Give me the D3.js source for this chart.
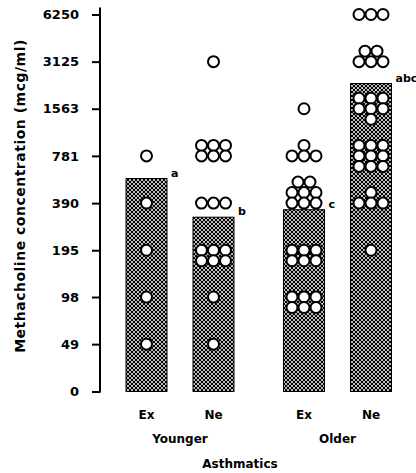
<!DOCTYPE html>
<html>
<head>
<meta charset="utf-8">
<script src="https://cdn.jsdelivr.net/npm/d3@7"></script>
<style>
  body { margin: 0; background: #fff; }
  text { font-family: "DejaVu Sans", sans-serif; font-weight: bold; fill: #000; }
</style>
</head>
<body>
<script>
// dose steps on the y axis (mcg/ml)
const doseLabels = ["0", "49", "98", "195", "390", "781", "1563", "3125", "6250"];
const groups = ["Younger", "Older"];
const subgroups = ["Ex", "Ne"];

// bars: geometric mean PC20 for each group
const barGroup = ["Younger", "Younger", "Older", "Older"];
const barSub = ["Ex", "Ne", "Ex", "Ne"];
const barMean = [560, 317, 354, 2264];
const barMark = ["a", "b", "c", "abc"];

// one value per subject
const youngerEx = [781, 390, 195, 98, 49];
const youngerNe = [3125,
  781, 781, 781, 781, 781, 781,
  390, 390, 390,
  195, 195, 195, 195, 195, 195,
  98, 49];
const olderEx = [1563,
  781, 781, 781, 781,
  390, 390, 390, 390, 390, 390, 390, 390,
  195, 195, 195, 195, 195, 195,
  98, 98, 98, 98, 98, 98];
const olderNe = [6250, 6250, 6250,
  3125, 3125, 3125, 3125, 3125,
  1563, 1563, 1563, 1563, 1563, 1563, 1563,
  781, 781, 781, 781, 781, 781, 781, 781, 781,
  390, 390, 390, 390,
  195];
const subjects = [youngerEx, youngerNe, olderEx, olderNe];

// how equal values get stacked (rows top to bottom, which row sits on the value)
const rowsFor = {1: [1], 2: [2], 3: [3], 4: [1, 3], 5: [2, 3], 6: [3, 3], 7: [3, 3, 1], 8: [2, 3, 3], 9: [3, 3, 3]};
const anchorFor = {1: 0, 2: 0, 3: 0, 4: 1, 5: 1, 6: 0, 7: 1, 8: 2, 9: 1};
const anchorOverride = {"1-781": 1};

const W = 416, H = 473;
const svg = d3.select("body").append("svg")
    .attr("width", W)
    .attr("height", H);

const defs = svg.append("defs");
const pat = defs.append("pattern")
    .attr("id", "hatch")
    .attr("patternUnits", "userSpaceOnUse")
    .attr("width", 4)
    .attr("height", 4);
pat.append("rect").attr("width", 4).attr("height", 4).attr("fill", "#fff");
[[0, 0], [4, 0], [0, 4], [4, 4], [2, 2]].forEach(p => {
  pat.append("circle").attr("cx", p[0]).attr("cy", p[1]).attr("r", 1.3).attr("fill", "#000");
});

// log2 steps, 0 placed at the bottom step
const step0 = 6250 / 128;
const lvl = d => d <= 0 ? 0 : 1 + Math.log2(d / step0);

const y = d3.scaleLinear()
    .domain([0, doseLabels.length - 1])
    .range([391.5, 14.5]);

const xg = d3.scalePoint().domain(groups).range([180, 337.5]);
const xs = d3.scalePoint().domain(subgroups).range([-33.5, 33.5]);
const barW = 41;
const cx = i => xg(barGroup[i]) + xs(barSub[i]);

// y axis
const yAxis = svg.append("g")
    .attr("transform", "translate(100,0)")
    .call(d3.axisLeft(y)
      .tickValues(doseLabels.map(d => lvl(+d)))
      .tickFormat((d, i) => doseLabels[i])
      .tickSize(8)
      .tickPadding(13));
yAxis.select(".domain").remove();
yAxis.selectAll(".tick line").attr("stroke", "#000").attr("stroke-width", 2);
yAxis.selectAll(".tick text")
    .attr("font-size", 13)
    .style("font-family", "'DejaVu Sans', sans-serif")
    .style("font-weight", "bold");
yAxis.append("line")
    .attr("x1", 0).attr("x2", 0)
    .attr("y1", y(doseLabels.length - 1) - 7)
    .attr("y2", y(0) + 1)
    .attr("stroke", "#000")
    .attr("stroke-width", 2);

svg.append("text")
    .attr("transform", `translate(25,${(y(0) + y(8)) / 2 - 7}) rotate(-90)`)
    .attr("text-anchor", "middle")
    .attr("font-size", 14)
    .attr("letter-spacing", 0.5)
    .text("Methacholine concentration (mcg/ml)");

// bars
svg.selectAll("rect.bar")
  .data(barMean)
  .join("rect")
    .attr("class", "bar")
    .attr("x", (d, i) => cx(i) - barW / 2)
    .attr("y", d => y(lvl(d)))
    .attr("width", barW)
    .attr("height", d => y(0) - y(lvl(d)))
    .attr("fill", "url(#hatch)")
    .attr("stroke", "#000")
    .attr("stroke-width", 1);

svg.selectAll("text.mark")
  .data(barMark)
  .join("text")
    .attr("class", "mark")
    .attr("x", (d, i) => cx(i) + barW / 2 + 4)
    .attr("y", (d, i) => y(lvl(barMean[i])) - 2)
    .attr("font-size", 11)
    .text(d => d);

// subject dots, equal values packed in rows
const dots = [];
subjects.forEach((vals, gi) => {
  d3.rollups(vals, v => v.length, d => d).forEach(([dose, n]) => {
    const rows = rowsFor[n];
    const anchor = anchorOverride[gi + "-" + dose] ?? anchorFor[n];
    rows.forEach((len, r) => {
      for (let j = 0; j < len; j++) {
        dots.push({
          x: cx(gi) + (j - (len - 1) / 2) * 12,
          y: y(lvl(dose)) + (r - anchor) * 10.5
        });
      }
    });
  });
});

svg.selectAll("circle.dot")
  .data(dots)
  .join("circle")
    .attr("class", "dot")
    .attr("cx", d => d.x)
    .attr("cy", d => d.y)
    .attr("r", 5.5)
    .attr("fill", "#fff")
    .attr("stroke", "#000")
    .attr("stroke-width", 2);

// category labels
svg.selectAll("text.sub")
  .data(barSub)
  .join("text")
    .attr("class", "sub")
    .attr("x", (d, i) => cx(i))
    .attr("y", 419)
    .attr("text-anchor", "middle")
    .attr("font-size", 12)
    .text(d => d);

svg.selectAll("text.grp")
  .data(groups)
  .join("text")
    .attr("class", "grp")
    .attr("x", d => xg(d))
    .attr("y", 443)
    .attr("text-anchor", "middle")
    .attr("font-size", 12)
    .text(d => d);

svg.append("text")
    .attr("x", 240)
    .attr("y", 468)
    .attr("text-anchor", "middle")
    .attr("font-size", 12)
    .text("Asthmatics");
</script>
</body>
</html>
